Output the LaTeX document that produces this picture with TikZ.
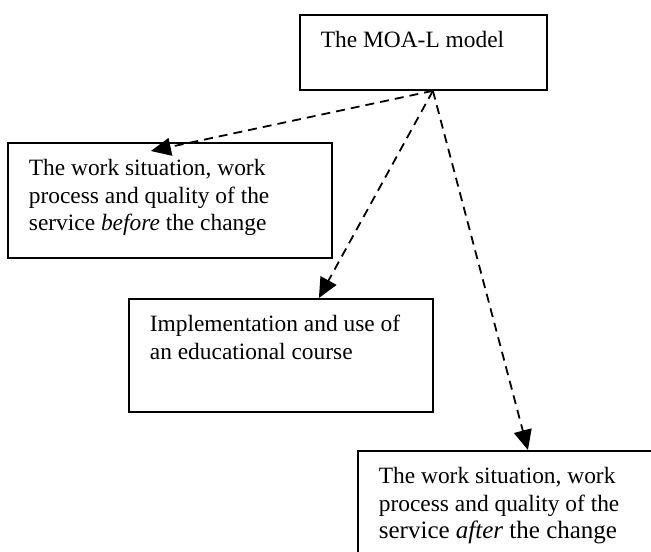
\documentclass[tikz,border=0pt]{standalone}
\usepackage{fontspec}
\setmainfont{Liberation Serif}
\usetikzlibrary{arrows.meta}
\usetikzlibrary{positioning}

\newcommand{\boxtext}[3]{\parbox[c][#2][t]{#1}{\rule{0pt}{16.3pt}#3}}

\begin{document}
\begin{tikzpicture}[x=0.5pt, y=-0.5pt,
  every node/.style={font=\fontsize{11.7}{13.75}\selectfont},
  stagebox/.style={draw, line width=0.9pt, rectangle, anchor=north west, inner xsep=10.5pt, inner ysep=0pt},
  link/.style={line width=0.9pt, dash pattern=on 4.5pt off 3pt, -{Triangle[length=10pt, width=9pt]}}]
\useasboundingbox (0,0) rectangle (651,551);
\clip (0,0) rectangle (651,551);

\node[stagebox] (model) at (299,14) {\boxtext{102.5pt}{37.5pt}{The MOA-L model}};
\node[stagebox] (before) at (7,142) {\boxtext{141pt}{57.5pt}{The work situation, work\\process and quality of the\\service \textit{before} the change}};
\node[stagebox] (course) at (128,298) {\boxtext{131pt}{56.5pt}{Implementation and use of\\an educational course}};
\node[stagebox] (after) at (357,450) {\boxtext{144pt}{65pt}{The work situation, work\\process and quality of the\\{\fontsize{12.5}{13.75}\selectfont service \textit{after} the change}}};

\coordinate (src) at ([xshift=4.75pt]model.south);
\draw[link] (src) -- ([xshift=-9.5pt, yshift=-4.5pt]before.north);
\draw[link] (src) -- ([xshift=19pt]course.north);
\draw[link] (src) -- ([xshift=2.5pt]after.north);
\end{tikzpicture}
\end{document}
